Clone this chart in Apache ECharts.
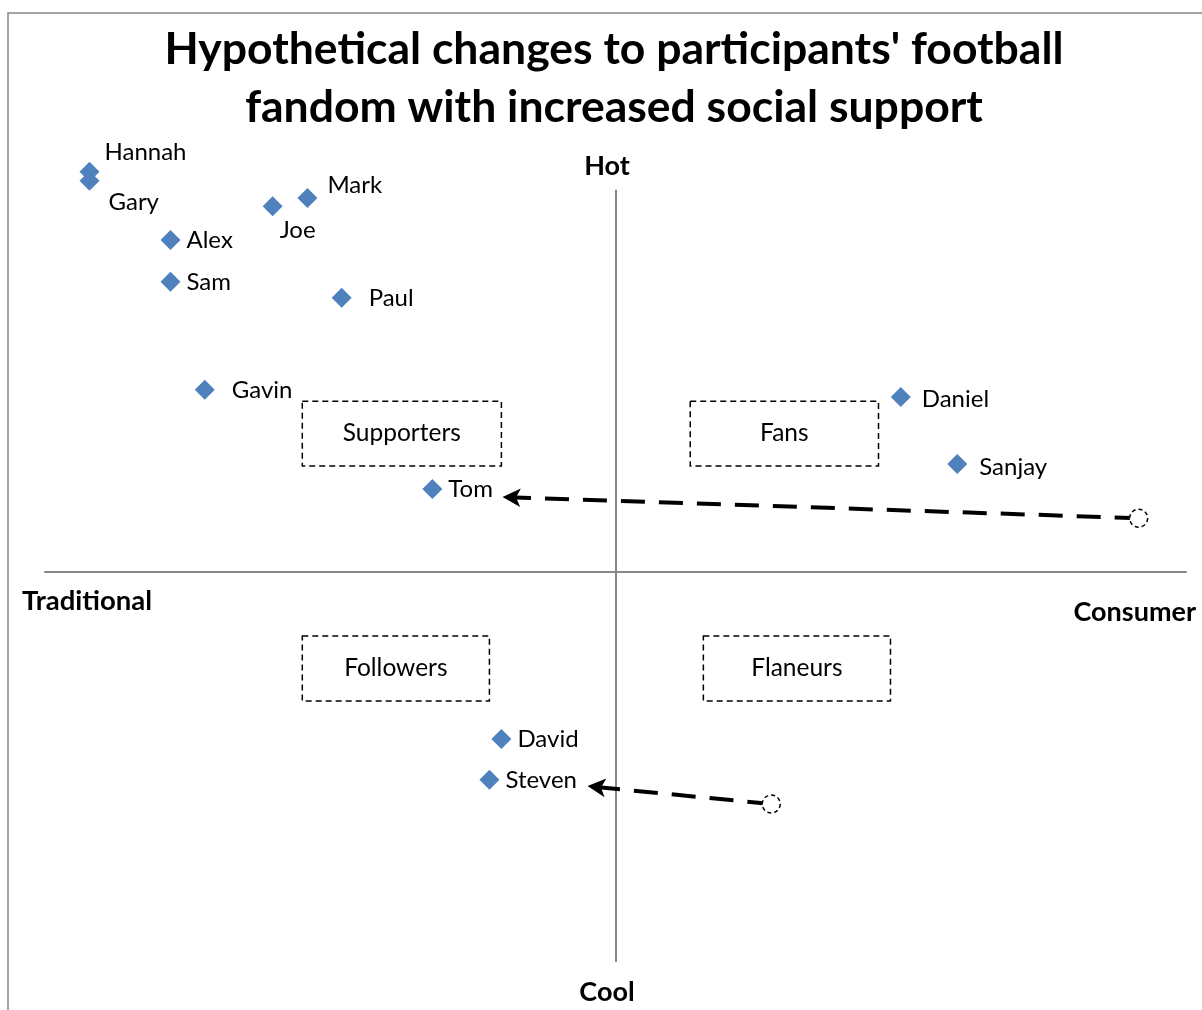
<!DOCTYPE html>
<html><head><meta charset="utf-8">
<script src="https://cdn.jsdelivr.net/npm/echarts@6/dist/echarts.min.js"></script>
<style>html,body{margin:0;padding:0;background:#fff}#c{width:1202px;height:1010px}</style>
</head><body><div id="c"></div>
<script>
const names = ['Hannah','Gary','Mark','Joe','Alex','Sam','Paul','Gavin','Daniel','Sanjay','Tom','David','Steven'];
const xVals = [-9.22,-9.22,-5.40,-6.01,-7.80,-7.80,-4.80,-7.20,5.00,5.99,-3.21,-2.00,-2.21];
const yVals = [10.26,10.03,9.59,9.38,8.51,7.44,7.03,4.67,4.49,2.77,2.13,-4.28,-5.33];
// hypothetical moves: [from, to]
const moveNames = ['Tom','Steven'];
const moveFrom = [[9.17,1.38],[2.73,-5.95]];
const moveTo = [[-1.98,1.92],[-0.49,-5.49]];
const quadrants = ['Supporters','Fans','Followers','Flaneurs'];
const quadX = [[-5.49,-2.00],[1.31,4.61],[-5.49,-2.21],[1.54,4.82]];
const quadY = [[4.38,2.72],[4.38,2.72],[-1.64,-3.31],[-1.64,-3.31]];

const FONT = 'Lato';
const labelStyle = {
  Hannah:{position:'right',offset:[-1,-20]},
  Gary:{position:'right',offset:[3,21]},
  Mark:{position:'right',offset:[4,-13]},
  Joe:{position:'bottom',offset:[25,-4]},
  Paul:{position:'right',offset:[11,0]},
  Gavin:{position:'right',offset:[11,0]},
  Daniel:{position:'right',offset:[5,2]},
  Sanjay:{position:'right',offset:[6,3]}
};
const pts = names.map((n,i)=>{
  const o = {name:n, value:[xVals[i],yVals[i]]};
  const ls = labelStyle[n] || {position:'right'};
  o.label = Object.assign({show:true, formatter:n}, ls);
  return o;
});

const chart = echarts.init(document.getElementById('c'));
chart.setOption({
  animation:false,
  title:{text:"Hypothetical changes to participants' football\nfandom with increased social support",
    left:609, textAlign:'center', top:16,
    textStyle:{fontFamily:FONT,fontWeight:'bold',fontSize:44.5,lineHeight:58,color:'#000'}},
  grid:{left:45,right:16,top:143,bottom:48},
  xAxis:{type:'value',min:-10,max:10,splitLine:{show:false},axisTick:{show:false},axisLabel:{show:false},
    axisLine:{show:true,onZero:true,lineStyle:{color:'#868686',width:2}}},
  yAxis:{type:'value',min:-10,max:11,splitLine:{show:false},axisTick:{show:false},axisLabel:{show:false},
    axisLine:{show:false}},
  graphic:[
    {type:'rect',shape:{x:8,y:13,width:1300,height:1100},style:{fill:'none',stroke:'#868686',lineWidth:1.5},z:-1},
    {type:'text',x:607,y:166,style:{text:'Hot',fontFamily:FONT,fontWeight:'bold',fontSize:27,fill:'#000',textAlign:'center',textVerticalAlign:'middle'}},
    {type:'text',x:607,y:992,style:{text:'Cool',fontFamily:FONT,fontWeight:'bold',fontSize:27,fill:'#000',textAlign:'center',textVerticalAlign:'middle'}},
    {type:'text',x:22,y:601,style:{text:'Traditional',fontFamily:FONT,fontWeight:'bold',fontSize:27.5,fill:'#000',textAlign:'left',textVerticalAlign:'middle'}},
    {type:'text',x:1196,y:612,style:{text:'Consumer',fontFamily:FONT,fontWeight:'bold',fontSize:27,fill:'#000',textAlign:'right',textVerticalAlign:'middle'}}
  ],
  series:[
    {type:'scatter',name:'axis',data:[],silent:true,
      markLine:{silent:true,symbol:['none','none'],label:{show:false},
        lineStyle:{color:'#868686',width:2,type:'solid'},
        data:[[{coord:[0,-10]},{coord:[0,9.8]}]]},
      markArea:{silent:true,
        itemStyle:{color:'rgba(255,255,255,0)',borderColor:'#000',borderWidth:1.5,borderType:[6,4]},
        label:{show:true,position:'inside',fontFamily:FONT,fontSize:24.5,color:'#000'},
        data:quadrants.map((q,i)=>[{name:q,coord:[quadX[i][0],quadY[i][0]]},{coord:[quadX[i][1],quadY[i][1]]}])}
    },
    {type:'scatter',name:'moves',data:[],silent:true,
      markLine:{silent:true,symbol:['none','arrow'],symbolSize:[14,18],label:{show:false},
        lineStyle:{color:'#000',width:4,type:[24,14]},
        data:moveNames.map((n,i)=>[{coord:moveFrom[i]},{coord:moveTo[i]}])}
    },
    {type:'scatter',name:'hypothetical',symbol:'circle',symbolSize:18,z:5,
      itemStyle:{color:'#fff',opacity:1,borderColor:'#000',borderWidth:1.5,borderType:[4,3]},
      data:moveFrom},
    {type:'scatter',name:'participants',symbol:'diamond',symbolSize:[20,20],z:6,
      itemStyle:{color:'#4F81BD',opacity:1},
      label:{fontFamily:FONT,fontSize:24,color:'#000',distance:6},
      data:pts}
  ]
});
</script></body></html>
